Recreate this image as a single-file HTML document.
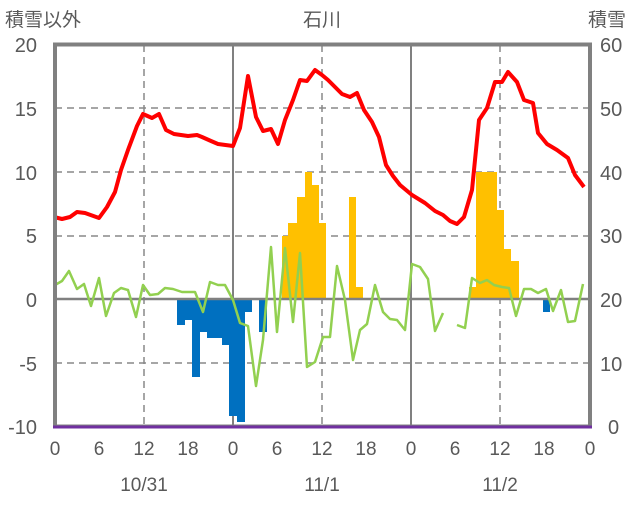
<!DOCTYPE html>
<html><head><meta charset="utf-8"><style>
body{margin:0;background:#fff}
text{font-family:"Liberation Sans","Noto Sans CJK JP",sans-serif;fill:#595959}
</style></head><body>
<svg width="636" height="501" viewBox="0 0 636 501" xmlns="http://www.w3.org/2000/svg">
<g stroke="#888" stroke-width="1.5" stroke-dasharray="7,5" fill="none">
<line x1="55" y1="108" x2="590" y2="108"/><line x1="55" y1="172" x2="590" y2="172"/>
<line x1="55" y1="236" x2="590" y2="236"/><line x1="55" y1="363" x2="590" y2="363"/>
<line x1="144" y1="45" x2="144" y2="426"/><line x1="322" y1="45" x2="322" y2="426"/><line x1="500" y1="45" x2="500" y2="426"/>
</g>
<g stroke="#808080" stroke-width="2"><line x1="233" y1="45" x2="233" y2="426"/><line x1="411" y1="45" x2="411" y2="426"/></g>
<g fill="#0070c0">
<rect x="177" y="299" width="8" height="26"/><rect x="185" y="299" width="7" height="21"/><rect x="192" y="299" width="8" height="78"/>
<rect x="200" y="299" width="7" height="33"/><rect x="207" y="299" width="15" height="39"/><rect x="222" y="299" width="7" height="46"/>
<rect x="229" y="299" width="8" height="117"/><rect x="237" y="299" width="8" height="123"/><rect x="245" y="299" width="7" height="13"/>
<rect x="259" y="299" width="8" height="33"/><rect x="543" y="299" width="7" height="13"/>
</g>
<g fill="#ffc000">
<rect x="282" y="236" width="6" height="63"/><rect x="288" y="223" width="9" height="76"/><rect x="297" y="197" width="8" height="102"/>
<rect x="305" y="172" width="7" height="127"/><rect x="312" y="185" width="7" height="114"/><rect x="319" y="223" width="7" height="76"/>
<rect x="349" y="197" width="7" height="102"/><rect x="356" y="287" width="7" height="12"/>
<rect x="469" y="287" width="7" height="12"/><rect x="476" y="172" width="21" height="127"/><rect x="497" y="210" width="7" height="89"/>
<rect x="504" y="249" width="7" height="50"/><rect x="511" y="261" width="8" height="38"/>
</g>
<line x1="55" y1="299" x2="590" y2="299" stroke="#808080" stroke-width="2.5"/>
<g fill="none" stroke="#92d050" stroke-width="2.5" stroke-linejoin="round">
<polyline points="55,285 62,281 69,271 77,289 84,284 91,306 99,278 106,316 114,293 121,288 128,290 136,317 143,285 150,295 158,294 165,288 173,289 182,292 195,292 203,312 210,282 218,285 225,285 233,300 240,323 248,326 256,386 263,340 271,247 277,332 285,248 293,322 300,253 307,367 315,362 323,337 330,337 337,266 345,300 353,360 360,330 367,324 375,285 383,312 390,319 397,320 405,330 412,264 420,267 428,279 435,331 443,313"/>
<polyline points="457,325 465,328 472,278 480,283 487,280 494,285 502,287 509,288 516,316 524,289 531,289 538,293 546,289 553,311 561,290 568,322 575,321 583,284"/>
</g>
<polyline fill="none" stroke="#ff0000" stroke-width="4" stroke-linejoin="round" points="54,217 62,219 70,217 77,212 85,213 99,218 107,207 115,192 121,170 128,150 137,126 143,114 152,118 159,114 166,130 174,134 188,136 197,135 202,137 211,141 218,144 233,146 240,128 248,76 256,117 263,131 271,129 278,144 285,120 293,100 300,80 307,81 315,70 322,75 328,80 335,87 342,94 350,97 357,93 364,110 372,122 379,137 386,165 393,176 400,185 412,195 425,203 435,211 443,215 450,221 457,224 464,217 472,190 479,120 487,108 495,82 502,82 508,72 517,82 524,100 533,103 538,133 547,144 557,150 568,158 575,175 584,187"/>
<rect x="55" y="44.5" width="535" height="382" fill="none" stroke="#808080" stroke-width="4"/>
<line x1="53" y1="427" x2="592" y2="427" stroke="#7030a0" stroke-width="3"/>
<g font-size="20" text-anchor="end">
<text x="37" y="52">20</text><text x="37" y="116">15</text><text x="37" y="180">10</text><text x="37" y="243">5</text>
<text x="37" y="307">0</text><text x="37" y="371">-5</text><text x="37" y="434">-10</text>
</g>
<g font-size="20" text-anchor="start">
<text x="600" y="52">60</text><text x="600" y="116">50</text><text x="600" y="180">40</text><text x="600" y="243">30</text>
<text x="600" y="307">20</text><text x="600" y="371">10</text><text x="608" y="434">0</text>
</g>
<g font-size="19" text-anchor="middle">
<text x="55" y="455">0</text><text x="99" y="455">6</text><text x="144" y="455">12</text><text x="188" y="455">18</text>
<text x="233" y="455">0</text><text x="277" y="455">6</text><text x="322" y="455">12</text><text x="366" y="455">18</text>
<text x="411" y="455">0</text><text x="455" y="455">6</text><text x="500" y="455">12</text><text x="544" y="455">18</text><text x="590" y="455">0</text>
<text x="144" y="491">10/31</text><text x="322" y="491">11/1</text><text x="500" y="491">11/2</text>
<text x="322" y="26">石川</text>
</g>
<text x="5" y="26" font-size="19">積雪以外</text>
<text x="588" y="26" font-size="19">積雪</text>
</svg>
</body></html>
